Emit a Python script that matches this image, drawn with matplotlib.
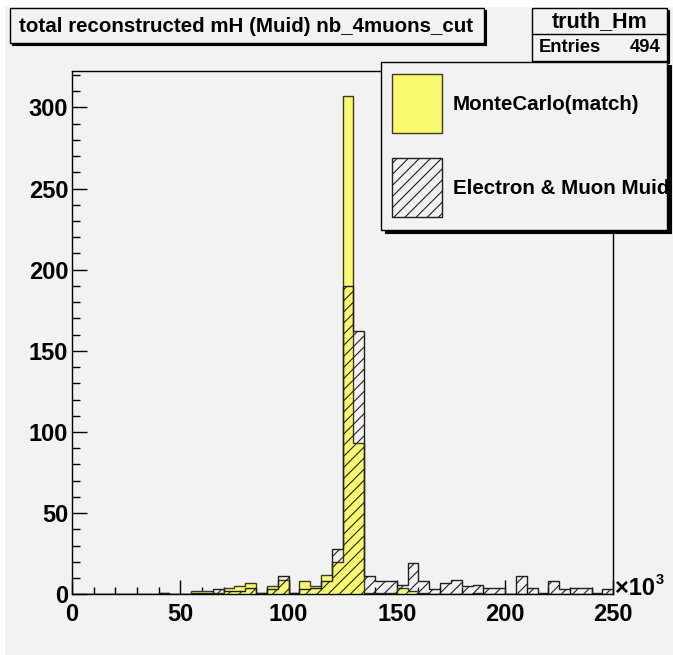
import numpy as np
import matplotlib
matplotlib.use("Agg")
import matplotlib.pyplot as plt
from matplotlib.patches import Rectangle
from matplotlib.transforms import Bbox, TransformedBbox
from matplotlib.ticker import MultipleLocator

# ---------------- data ----------------
x_min, x_max, bin_width = 0, 250, 5
n_bins = 50
mc_match = [0, 0, 0, 0, 0, 0, 0, 0, 1, 0,
            0, 2, 2, 1, 4, 5, 7, 1, 5, 9,
            1, 8, 5, 12, 20, 307, 93, 1, 1, 1,
            4, 2, 1, 0, 0, 0, 0, 1, 0, 0,
            0, 0, 0, 0, 0, 0, 0, 0, 0, 0]
muid = [0, 0, 0, 0, 0, 0, 0, 0, 1, 0,
        0, 1, 1, 3, 2, 2, 4, 1, 3, 11,
        1, 3, 4, 8, 28, 190, 162, 11, 8, 8,
        6, 19, 8, 3, 7, 9, 5, 6, 4, 4,
        0, 11, 4, 1, 8, 3, 4, 4, 1, 3]
title = "total reconstructed mH (Muid) nb_4muons_cut"
stats_name = "truth_Hm"
stats_entries = 494
legend_labels = ["MonteCarlo(match)", "Electron & Muon Muid"]
x_ticks = [0, 50, 100, 150, 200, 250]
y_ticks = [0, 50, 100, 150, 200, 250, 300]

edges = np.linspace(x_min, x_max, n_bins + 1)

# ---------------- style ----------------
W, H = 673, 655
BG = "#f2f2f2"
YEL = "#fafa6e"
FONT = "Liberation Sans"
plt.rcParams["font.family"] = [FONT, "DejaVu Sans"]
plt.rcParams["hatch.linewidth"] = 0.8
HATCH = "///"

fig = plt.figure(figsize=(W / 100, H / 100), dpi=100)
fig.patch.set_facecolor("white")


def fx(x):
    return x / W


def fy(y):
    return 1 - y / H


# grey canvas
fig.add_artist(Rectangle((fx(5), 0), 1, fy(7), transform=fig.transFigure,
                         facecolor=BG, edgecolor="none", zorder=0))

ax = fig.add_axes([fx(72), fy(594.3), (613.3 - 72) / W, (594.3 - 70.7) / H])
ax.set_facecolor(BG)
ax.set_xlim(x_min, x_max)
ax.set_ylim(0, 322.6)

ax.stairs(mc_match, edges, fill=True, facecolor=YEL, edgecolor="#3a3a2a",
          linewidth=1.0, zorder=2)
ax.stairs(muid, edges, fill=True, facecolor="none", edgecolor="#202020",
          hatch=HATCH, linewidth=1.0, zorder=3)

for s in ax.spines.values():
    s.set_linewidth(1.0)
    s.set_color("black")
ax.set_xticks(x_ticks)
ax.set_yticks(y_ticks)
ax.xaxis.set_minor_locator(MultipleLocator(10))
ax.yaxis.set_minor_locator(MultipleLocator(10))
ax.tick_params(axis="x", which="major", direction="in", length=10.3, width=1,
               pad=6.3, labelsize=17)
ax.tick_params(axis="x", which="minor", direction="in", length=5.0, width=1)
ax.tick_params(axis="y", which="major", direction="in", length=10.8, width=1,
               pad=2.7, labelsize=17)
ax.tick_params(axis="y", which="minor", direction="in", length=5.8, width=1)
for lab in ax.get_xticklabels() + ax.get_yticklabels():
    lab.set_fontweight("bold")

# x10^3 multiplier
fig.text(fx(615), fy(595), "\u00d710", fontsize=17, fontweight="bold",
         ha="left", va="baseline")
fig.text(fx(656), fy(583.5), "3", fontsize=10.5, fontweight="bold",
         ha="left", va="baseline")


def box(x0, y0, x1, y1, shadow=2, z=10):
    if shadow:
        fig.add_artist(Rectangle((fx(x0 + shadow), fy(y1 + shadow)),
                                 (x1 - x0) / W, (y1 - y0) / H,
                                 transform=fig.transFigure, facecolor="black",
                                 edgecolor="black", linewidth=0.8, zorder=z))
    fig.add_artist(Rectangle((fx(x0), fy(y1)), (x1 - x0) / W, (y1 - y0) / H,
                             transform=fig.transFigure, facecolor=BG,
                             edgecolor="black", linewidth=1.0, zorder=z + 0.1))


# title box
box(10, 8, 484, 43, shadow=2, z=10)
fig.text(fx(19), fy(26.5), title, fontsize=14.8, fontweight="bold",
         ha="left", va="center", zorder=11)

# stats box
box(532, 8, 667, 61, shadow=1.5, z=10)
fig.add_artist(plt.Line2D([fx(532), fx(667)], [fy(34.3), fy(34.3)],
                          transform=fig.transFigure, color="black",
                          linewidth=1.0, zorder=11))
fig.text(fx(599.5), fy(22), stats_name, fontsize=15.5, fontweight="bold",
         ha="center", va="center", zorder=11)
fig.text(fx(539), fy(47), "Entries", fontsize=13.2, fontweight="bold",
         ha="left", va="center", zorder=11)
fig.text(fx(660), fy(47), f"{stats_entries}", fontsize=13.2, fontweight="bold",
         ha="right", va="center", zorder=11)

# legend box
box(381, 62, 667, 230, shadow=3.5, z=12)
fig.add_artist(Rectangle((fx(391.7), fy(133)), (442.3 - 391.7) / W,
                         (133 - 74) / H, transform=fig.transFigure,
                         facecolor=YEL, edgecolor="#3a3a2a", linewidth=1.0,
                         zorder=13))
fig.add_artist(Rectangle((fx(391.7), fy(217)), (442.3 - 391.7) / W,
                         (217 - 158) / H, transform=fig.transFigure,
                         facecolor="none", edgecolor="#202020", hatch=HATCH,
                         linewidth=1.0, zorder=13))
clip = TransformedBbox(Bbox([[fx(381), fy(230)], [fx(666.5), fy(62)]]),
                       fig.transFigure)
for lab, yc in zip(legend_labels, [105, 188]):
    t = fig.text(fx(453), fy(yc), lab, fontsize=14.8, fontweight="bold",
                 ha="left", va="center", zorder=14)
    t.set_clip_box(clip)
    t.set_clip_on(True)

fig.savefig("out.png", dpi=100, facecolor=fig.get_facecolor())
